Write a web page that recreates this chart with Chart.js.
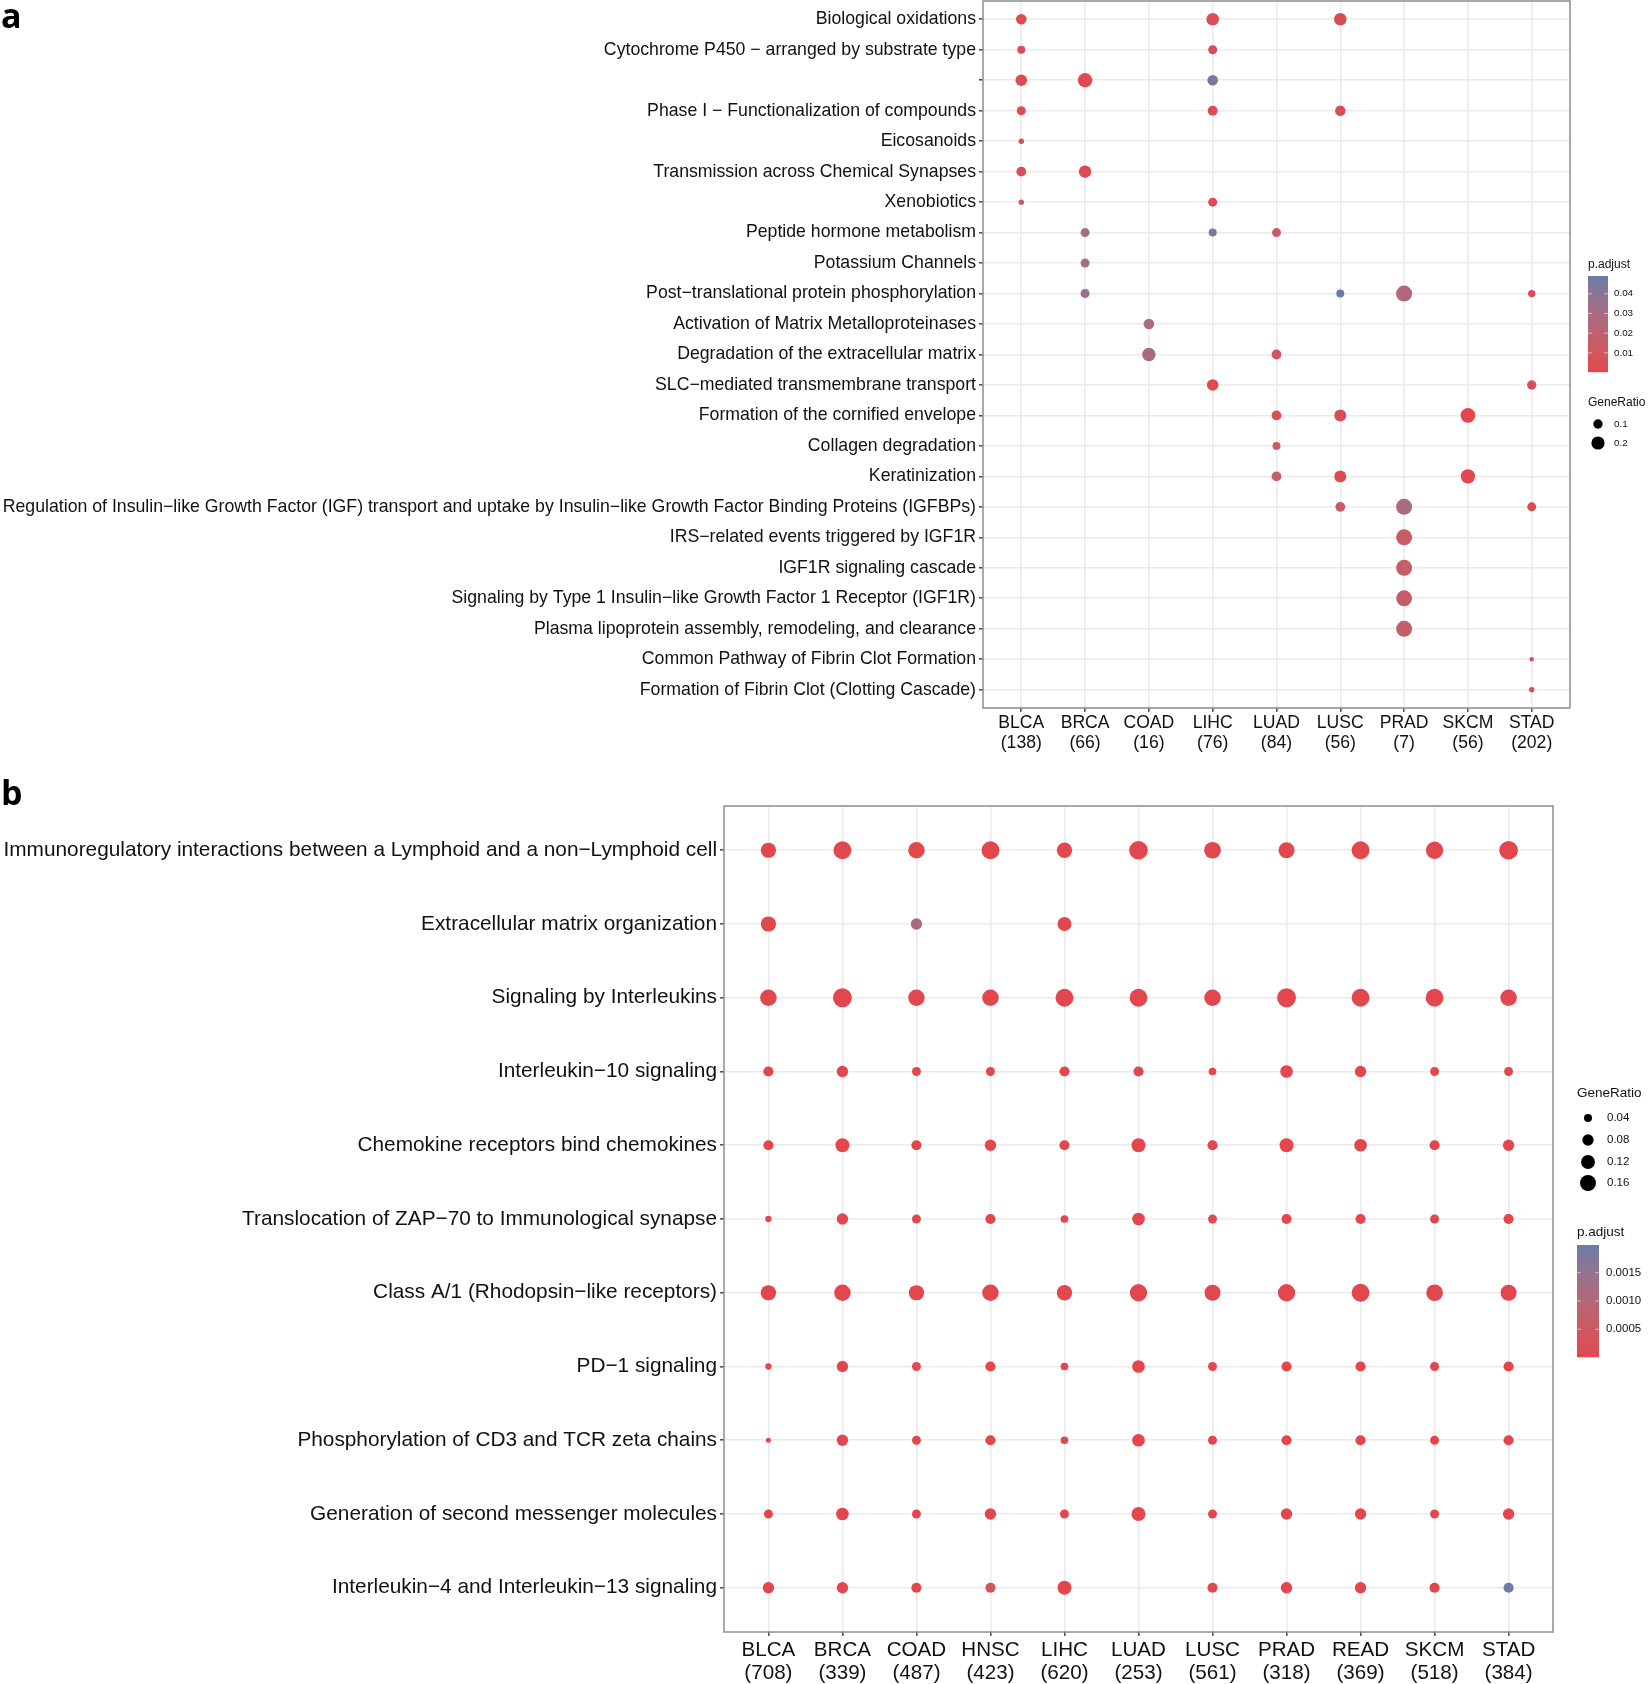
<!DOCTYPE html>
<html><head><meta charset="utf-8">
<script src="https://cdn.jsdelivr.net/npm/chart.js@4.4.1/dist/chart.umd.min.js"></script>
<style>
html,body{margin:0;padding:0;background:#fff;}
#wrap{position:relative;width:1648px;height:1684px;overflow:hidden;}
canvas{position:absolute;left:0;top:0;}
</style></head><body>
<div id="wrap">
<div style="position:absolute;left:0;top:0;width:1648px;height:760px"><canvas id="ca" width="1648" height="760"></canvas></div>
<div style="position:absolute;left:0;top:760px;width:1648px;height:924px"><canvas id="cb" width="1648" height="924"></canvas></div>
</div>
<script>
// ---------------- Panel a data ----------------
const aCancers = ['BLCA','BRCA','COAD','LIHC','LUAD','LUSC','PRAD','SKCM','STAD'];
const aCounts  = ['(138)','(66)','(16)','(76)','(84)','(56)','(7)','(56)','(202)'];
const aPathways = [
  'Biological oxidations',
  'Cytochrome P450 \u2212 arranged by substrate type',
  '',
  'Phase I \u2212 Functionalization of compounds',
  'Eicosanoids',
  'Transmission across Chemical Synapses',
  'Xenobiotics',
  'Peptide hormone metabolism',
  'Potassium Channels',
  'Post\u2212translational protein phosphorylation',
  'Activation of Matrix Metalloproteinases',
  'Degradation of the extracellular matrix',
  'SLC\u2212mediated transmembrane transport',
  'Formation of the cornified envelope',
  'Collagen degradation',
  'Keratinization',
  'Regulation of Insulin\u2212like Growth Factor (IGF) transport and uptake by Insulin\u2212like Growth Factor Binding Proteins (IGFBPs)',
  'IRS\u2212related events triggered by IGF1R',
  'IGF1R signaling cascade',
  'Signaling by Type 1 Insulin\u2212like Growth Factor 1 Receptor (IGF1R)',
  'Plasma lipoprotein assembly, remodeling, and clearance',
  'Common Pathway of Fibrin Clot Formation',
  'Formation of Fibrin Clot (Clotting Cascade)'
];
//                 BLCA   BRCA   COAD   LIHC   LUAD   LUSC   PRAD   SKCM   STAD
const aGeneRatio = [
  [0.130, null,  null,  0.180, null,  0.180, null,  null,  null ],
  [0.075, null,  null,  0.093, null,  null,  null,  null,  null ],
  [0.155, 0.235, null,  0.130, null,  null,  null,  null,  null ],
  [0.093, null,  null,  0.115, null,  0.125, null,  null,  null ],
  [0.034, null,  null,  null,  null,  null,  null,  null,  null ],
  [0.110, 0.180, null,  null,  null,  null,  null,  null,  null ],
  [0.034, null,  null,  0.093, null,  null,  null,  null,  null ],
  [null,  0.093, null,  0.074, 0.093, null,  null,  null,  null ],
  [null,  0.093, null,  null,  null,  null,  null,  null,  null ],
  [null,  0.093, null,  null,  null,  0.074, 0.294, null,  0.061],
  [null,  null,  0.130, null,  null,  null,  null,  null,  null ],
  [null,  null,  0.206, null,  0.110, null,  null,  null,  null ],
  [null,  null,  null,  0.155, null,  null,  null,  null,  0.100],
  [null,  null,  null,  null,  0.110, 0.165, null,  0.248, null ],
  [null,  null,  null,  null,  0.074, null,  null,  null,  null ],
  [null,  null,  null,  null,  0.110, 0.165, null,  0.235, null ],
  [null,  null,  null,  null,  null,  0.110, 0.294, null,  0.093],
  [null,  null,  null,  null,  null,  null,  0.294, null,  null ],
  [null,  null,  null,  null,  null,  null,  0.294, null,  null ],
  [null,  null,  null,  null,  null,  null,  0.290, null,  null ],
  [null,  null,  null,  null,  null,  null,  0.290, null,  null ],
  [null,  null,  null,  null,  null,  null,  null,  null,  0.023],
  [null,  null,  null,  null,  null,  null,  null,  null,  0.034]
];
const aPAdjust = [
  [0.003, null,  null,  0.004, null,  0.004, null,  null,  null ],
  [0.004, null,  null,  0.004, null,  null,  null,  null,  null ],
  [0.003, 0.002, null,  0.046, null,  null,  null,  null,  null ],
  [0.004, null,  null,  0.004, null,  0.004, null,  null,  null ],
  [0.006, null,  null,  null,  null,  null,  null,  null,  null ],
  [0.005, 0.003, null,  null,  null,  null,  null,  null,  null ],
  [0.011, null,  null,  0.004, null,  null,  null,  null,  null ],
  [null,  0.031, null,  0.045, 0.013, null,  null,  null,  null ],
  [null,  0.031, null,  null,  null,  null,  null,  null,  null ],
  [null,  0.034, null,  null,  null,  0.049, 0.026, null,  0.003],
  [null,  null,  0.030, null,  null,  null,  null,  null,  null ],
  [null,  null,  0.029, null,  0.011, null,  null,  null,  null ],
  [null,  null,  null,  0.003, null,  null,  null,  null,  0.004],
  [null,  null,  null,  null,  0.005, 0.003, null,  0.0003,null ],
  [null,  null,  null,  null,  0.013, null,  null,  null,  null ],
  [null,  null,  null,  null,  0.017, 0.003, null,  0.002, null ],
  [null,  null,  null,  null,  null,  0.013, 0.028, null,  0.003],
  [null,  null,  null,  null,  null,  null,  0.015, null,  null ],
  [null,  null,  null,  null,  null,  null,  0.015, null,  null ],
  [null,  null,  null,  null,  null,  null,  0.015, null,  null ],
  [null,  null,  null,  null,  null,  null,  0.017, null,  null ],
  [null,  null,  null,  null,  null,  null,  null,  null,  0.009],
  [null,  null,  null,  null,  null,  null,  null,  null,  0.011]
];
const aSizeBreaks = [0.1, 0.2];
const aColorBreaks = [0.04, 0.03, 0.02, 0.01];

// ---------------- Panel b data ----------------
const bCancers = ['BLCA','BRCA','COAD','HNSC','LIHC','LUAD','LUSC','PRAD','READ','SKCM','STAD'];
const bCounts  = ['(708)','(339)','(487)','(423)','(620)','(253)','(561)','(318)','(369)','(518)','(384)'];
const bPathways = [
  'Immunoregulatory interactions between a Lymphoid and a non\u2212Lymphoid cell',
  'Extracellular matrix organization',
  'Signaling by Interleukins',
  'Interleukin\u221210 signaling',
  'Chemokine receptors bind chemokines',
  'Translocation of ZAP\u221270 to Immunological synapse',
  'Class A/1 (Rhodopsin\u2212like receptors)',
  'PD\u22121 signaling',
  'Phosphorylation of CD3 and TCR zeta chains',
  'Generation of second messenger molecules',
  'Interleukin\u22124 and Interleukin\u221213 signaling'
];
//                 BLCA   BRCA   COAD   HNSC   LIHC   LUAD   LUSC   PRAD   READ   SKCM   STAD
const bGeneRatio = [
  [0.145, 0.200, 0.170, 0.200, 0.146, 0.218, 0.174, 0.160, 0.200, 0.187, 0.218],
  [0.145, null,  0.081, null,  0.122, null,  null,  null,  null,  null,  null ],
  [0.170, 0.223, 0.170, 0.170, 0.200, 0.200, 0.170, 0.223, 0.200, 0.200, 0.170],
  [0.065, 0.081, 0.050, 0.050, 0.065, 0.065, 0.037, 0.100, 0.081, 0.050, 0.050],
  [0.065, 0.122, 0.065, 0.081, 0.065, 0.122, 0.065, 0.122, 0.100, 0.065, 0.081],
  [0.025, 0.081, 0.050, 0.065, 0.037, 0.100, 0.050, 0.065, 0.065, 0.050, 0.065],
  [0.145, 0.170, 0.145, 0.170, 0.146, 0.187, 0.160, 0.187, 0.200, 0.174, 0.160],
  [0.025, 0.081, 0.050, 0.065, 0.037, 0.100, 0.050, 0.065, 0.065, 0.050, 0.065],
  [0.016, 0.081, 0.050, 0.065, 0.037, 0.100, 0.050, 0.065, 0.065, 0.050, 0.065],
  [0.050, 0.100, 0.050, 0.081, 0.050, 0.122, 0.050, 0.081, 0.081, 0.050, 0.081],
  [0.081, 0.081, 0.065, 0.065, 0.122, null,  0.065, 0.081, 0.081, 0.065, 0.065]
];
const bPAdjust = [
  [1e-5, 1e-5, 1e-5, 1e-5, 1e-5, 1e-5, 1e-5, 1e-5, 1e-5, 1e-5, 1e-5],
  [1e-5, null, 0.0011, null, 2e-5, null, null, null, null, null, null],
  [1e-5, 1e-5, 1e-5, 1e-5, 1e-5, 1e-5, 1e-5, 1e-5, 1e-5, 1e-5, 1e-5],
  [1e-5, 1e-5, 1e-5, 1e-5, 1e-5, 1e-5, 1e-5, 1e-5, 1e-5, 1e-5, 1e-5],
  [1e-5, 1e-5, 1e-5, 1e-5, 1e-5, 1e-5, 1e-5, 1e-5, 1e-5, 1e-5, 1e-5],
  [1e-5, 1e-5, 1e-5, 1e-5, 1e-5, 1e-5, 1e-5, 1e-5, 1e-5, 1e-5, 1e-5],
  [1e-5, 1e-5, 1e-5, 1e-5, 1e-5, 1e-5, 1e-5, 1e-5, 1e-5, 1e-5, 1e-5],
  [1e-5, 1e-5, 1e-5, 1e-5, 1e-5, 1e-5, 1e-5, 1e-5, 1e-5, 1e-5, 1e-5],
  [1e-5, 1e-5, 1e-5, 1e-5, 1e-5, 1e-5, 1e-5, 1e-5, 1e-5, 1e-5, 1e-5],
  [1e-5, 1e-5, 1e-5, 1e-5, 1e-5, 1e-5, 1e-5, 1e-5, 1e-5, 1e-5, 1e-5],
  [1e-5, 1e-5, 1e-5, 0.0004, 2e-5, null, 1e-5, 1e-5, 1e-5, 1e-5, 0.00199]
];
const bSizeBreaks = [0.04, 0.08, 0.12, 0.16];
const bColorBreaks = [0.0015, 0.0010, 0.0005];

// ---------------- helpers ----------------
const LOW = [225, 71, 77], HIGH = [107, 124, 166];
function s2l(c){c/=255;return c<=0.04045?c/12.92:Math.pow((c+0.055)/1.055,2.4);}
function l2s(c){c=c<=0.0031308?12.92*c:1.055*Math.pow(c,1/2.4)-0.055;return Math.max(0,Math.min(255,Math.round(c*255)));}
function toLab(rgb){
  const r=s2l(rgb[0]),g=s2l(rgb[1]),b=s2l(rgb[2]);
  let x=(r*0.4124+g*0.3576+b*0.1805)/0.95047,y=(r*0.2126+g*0.7152+b*0.0722),z=(r*0.0193+g*0.1192+b*0.9505)/1.08883;
  const f=t=>t>0.008856?Math.cbrt(t):7.787*t+16/116;
  const fx=f(x),fy=f(y),fz=f(z);
  return [116*fy-16,500*(fx-fy),200*(fy-fz)];
}
function fromLab(lab){
  const fy=(lab[0]+16)/116,fx=fy+lab[1]/500,fz=fy-lab[2]/200;
  const fi=t=>t*t*t>0.008856?t*t*t:(t-16/116)/7.787;
  const x=fi(fx)*0.95047,y=fi(fy),z=fi(fz)*1.08883;
  const r=x*3.2406+y*-1.5372+z*-0.4986,g=x*-0.9689+y*1.8758+z*0.0415,b=x*0.0557+y*-0.2040+z*1.0570;
  return [l2s(r),l2s(g),l2s(b)];
}
const LOWLAB=toLab(LOW), HIGHLAB=toLab(HIGH);
function ramp(t){
  t=Math.max(0,Math.min(1,t));
  const c=fromLab([0,1,2].map(i=>LOWLAB[i]+(HIGHLAB[i]-LOWLAB[i])*t));
  return 'rgb('+c[0]+','+c[1]+','+c[2]+')';
}
function limits(m){const v=m.flat().filter(x=>x!=null);return [Math.min(...v),Math.max(...v)];}

const AX_FONT = "'Liberation Sans', Arial, Helvetica, sans-serif";

function makePanel(cfg){
  const nR = cfg.pathways.length, nC = cfg.cancers.length;
  const [pMin,pMax] = limits(cfg.padj);
  const col = p => ramp((p-pMin)/(pMax-pMin));
  const rad = v => cfg.k*Math.sqrt(v);
  const pts=[];
  cfg.ratio.forEach((row,i)=>row.forEach((v,j)=>{ if(v!=null) pts.push({x:j,y:i,v:v,p:cfg.padj[i][j]}); }));

  const frame = {
    id:'frame',
    afterDraw(chart){
      const c=chart.ctx, a=chart.chartArea;
      c.save();
      c.strokeStyle='#8d8d8d'; c.lineWidth=1.5;
      c.strokeRect(a.left, a.top, a.right-a.left, a.bottom-a.top);
      c.fillStyle='#000'; c.font="bold "+cfg.letterSize+"px 'Open Sans', 'DejaVu Sans', sans-serif";
      c.textAlign='left'; c.textBaseline='alphabetic';
      c.fillText(cfg.letter, cfg.letterX, cfg.letterY);
      cfg.legend(c, rad, col, pMin, pMax);
      c.restore();
    }
  };

  return new Chart(document.getElementById(cfg.id), {
    type:'scatter',
    data:{datasets:[{
      data:pts,
      pointRadius: c => c.raw ? rad(c.raw.v) : 0,
      pointHoverRadius: c => c.raw ? rad(c.raw.v) : 0,
      backgroundColor: c => c.raw ? col(c.raw.p) : '#000',
      borderWidth:0, pointBorderWidth:0, clip:false
    }]},
    options:{
      responsive:false, animation:false, events:[],
      layout:{autoPadding:false, padding:{top:cfg.padTop, right:cfg.padRight, bottom:0, left:0}},
      plugins:{legend:{display:false}, tooltip:{enabled:false}},
      scales:{
        x:{
          type:'linear', min:-0.6, max:nC-0.4,
          afterBuildTicks: ax => { ax.ticks = cfg.cancers.map((_,i)=>({value:i})); },
          afterFit: ax => { ax.height = cfg.xAxisH; ax.paddingLeft=0; ax.paddingRight=0; ax.paddingTop=0; ax.paddingBottom=0; },
          ticks:{autoSkip:false, maxRotation:0, minRotation:0, padding:cfg.xPad, color:'#111',
            font:{family:AX_FONT, size:cfg.xFont, lineHeight:cfg.xLH},
            callback: v => [cfg.cancers[v], cfg.counts[v]]},
          grid:{color:'#EBEBEB', lineWidth:1.6, tickColor:'#555', tickLength:4, drawTicks:true},
          border:{display:false}
        },
        y:{
          type:'linear', reverse:true, min:-0.6, max:nR-0.4,
          afterBuildTicks: ax => { ax.ticks = cfg.pathways.map((_,i)=>({value:i})); },
          afterFit: ax => { ax.width = cfg.yAxisW; ax.paddingTop=0; ax.paddingBottom=0; ax.paddingLeft=0; ax.paddingRight=0; },
          ticks:{autoSkip:false, padding:cfg.yPad, color:'#111',
            font:{family:AX_FONT, size:cfg.yFont},
            callback: v => cfg.pathways[v]},
          grid:{color:'#EBEBEB', lineWidth:1.6, tickColor:'#555', tickLength:4, drawTicks:true},
          border:{display:false}
        }
      }
    },
    plugins:[frame]
  });
}

function drawColorbar(c, x, y, w, h, pMin, pMax, breaks, col, labX, fontSize, decimals){
  for(let i=0;i<h;i++){
    const p = pMax - (i+0.5)/h*(pMax-pMin);
    c.fillStyle = col(p);
    c.fillRect(x, y+i, w, 1.2);
  }
  c.font = fontSize+"px "+AX_FONT; c.fillStyle='#111'; c.textAlign='left'; c.textBaseline='middle';
  breaks.forEach(b=>{
    const yy = y + (pMax-b)/(pMax-pMin)*h;
    c.strokeStyle='rgba(255,255,255,0.55)'; c.lineWidth=1;
    c.beginPath(); c.moveTo(x,yy); c.lineTo(x+4,yy); c.moveTo(x+w-4,yy); c.lineTo(x+w,yy); c.stroke();
    c.fillText(b.toFixed(decimals), labX, yy);
  });
}

// Panel a
makePanel({
  id:'ca', cancers:aCancers, counts:aCounts, pathways:aPathways, ratio:aGeneRatio, padj:aPAdjust,
  k:14.75, padTop:1, padRight:1648-1570, xAxisH:760-708, yAxisW:983,
  xFont:17.6, xLH:1.09, xPad:2, yFont:17.7, yPad:3,
  letter:'a', letterSize:34, letterX:1, letterY:28,
  legend:(c, rad, col, pMin, pMax)=>{
    c.fillStyle='#111'; c.textAlign='left'; c.textBaseline='middle';
    c.font="12px "+AX_FONT;
    c.fillText('p.adjust', 1588, 265);
    drawColorbar(c, 1588, 276, 20, 96, pMin, pMax, aColorBreaks, col, 1614, 9.8, 2);
    c.fillStyle='#111'; c.font="12px "+AX_FONT;
    c.fillText('GeneRatio', 1588, 403);
    const ys=[424,443];
    aSizeBreaks.forEach((b,i)=>{
      c.fillStyle='#000'; c.beginPath(); c.arc(1598, ys[i], rad(b), 0, Math.PI*2); c.fill();
      c.font="9.8px "+AX_FONT; c.fillStyle='#111'; c.fillText(String(b), 1614, ys[i]);
    });
  }
});

// Panel b (canvas top = 760)
makePanel({
  id:'cb', cancers:bCancers, counts:bCounts, pathways:bPathways, ratio:bGeneRatio, padj:bPAdjust,
  k:20, padTop:806-760, padRight:1648-1553, xAxisH:1684-1632, yAxisW:724,
  xFont:20.6, xLH:1.12, xPad:3, yFont:20.8, yPad:3,
  letter:'b', letterSize:34, letterX:1, letterY:45,
  legend:(c, rad, col, pMin, pMax)=>{
    const o=760;
    c.fillStyle='#111'; c.textAlign='left'; c.textBaseline='middle';
    c.font="13.5px "+AX_FONT;
    c.fillText('GeneRatio', 1577, 1093-o);
    const ys=[1118,1140,1162,1183];
    bSizeBreaks.forEach((b,i)=>{
      c.fillStyle='#000'; c.beginPath(); c.arc(1588, ys[i]-o, rad(b), 0, Math.PI*2); c.fill();
      c.font="11.5px "+AX_FONT; c.fillStyle='#111'; c.fillText(b.toFixed(2), 1607, ys[i]-o);
    });
    c.font="13.5px "+AX_FONT; c.fillStyle='#111';
    c.fillText('p.adjust', 1577, 1232-o);
    drawColorbar(c, 1577, 1245-o, 22, 112, pMin, pMax, bColorBreaks, col, 1606, 11.5, 4);
  }
});
</script>
</body></html>
